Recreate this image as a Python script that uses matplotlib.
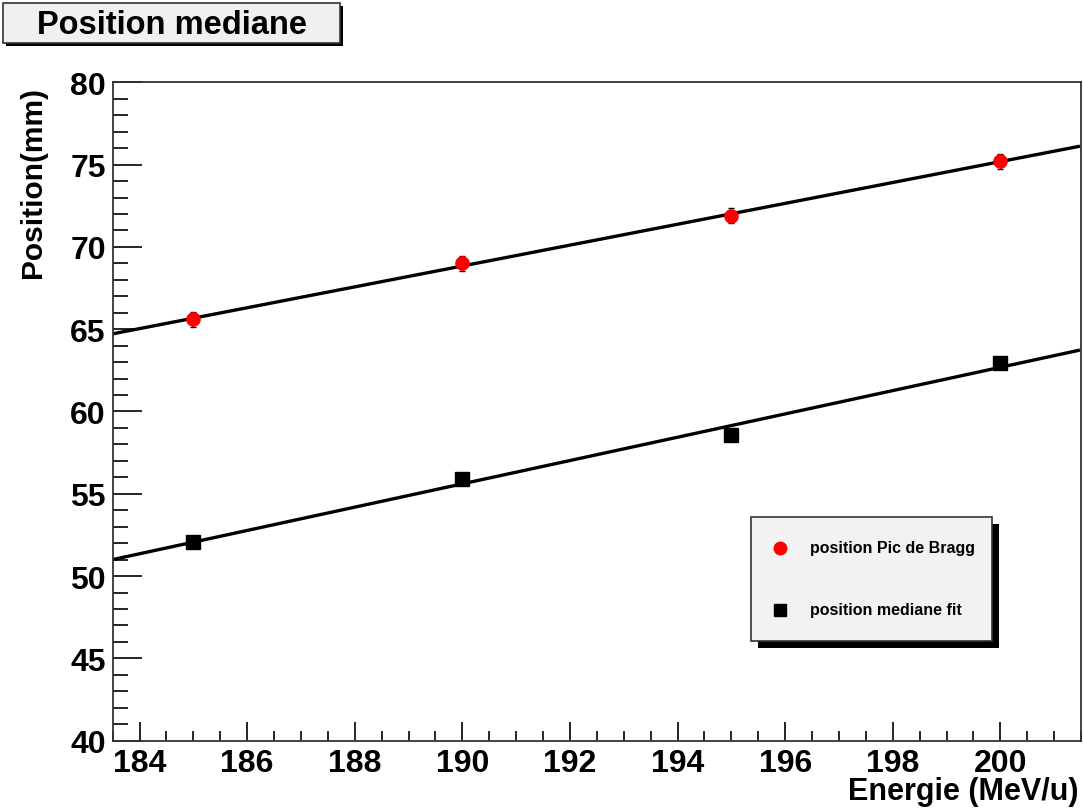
import numpy as np
import matplotlib
matplotlib.use("Agg")
import matplotlib.pyplot as plt
from matplotlib.patches import Rectangle
from matplotlib.ticker import MultipleLocator

plt.rcParams['font.family'] = ['Liberation Sans', 'DejaVu Sans']
plt.rcParams['font.weight'] = 'bold'

energies = [185, 190, 195, 200]
bragg_pos = [65.6, 69.0, 71.9, 75.2]
bragg_err = [0.45, 0.45, 0.45, 0.45]
median_pos = [52.05, 55.9, 58.6, 62.95]

title = "Position mediane"
xlabel = "Energie (MeV/u)"
ylabel = "Position(mm)"
legend_labels = ["position Pic de Bragg", "position mediane fit"]

W, H = 1083, 812
fig = plt.figure(figsize=(W / 100, H / 100), dpi=100)
ax = fig.add_axes([112.7 / W, 1 - 741.7 / H, (1081 - 112.7) / W, (741.7 - 83.3) / H])

xmin, xmax = 183.5, 201.5
ax.set_xlim(xmin, xmax)
ax.set_ylim(40, 80)

# linear fits
xf = np.array([xmin, xmax - 0.05])
for ys in (bragg_pos, median_pos):
    p = np.polyfit(energies, ys, 1)
    ax.plot(xf, np.polyval(p, xf), color='black', lw=2.4, zorder=2)

ax.errorbar(energies, bragg_pos, yerr=bragg_err, fmt='o', color='red', ms=9.5,
            ecolor='black', elinewidth=1, capsize=2, capthick=1, zorder=3)
ax.plot(energies, median_pos, 's', color='black', ms=9.5, zorder=3)

ax.xaxis.set_major_locator(MultipleLocator(2))
ax.xaxis.set_minor_locator(MultipleLocator(0.5))
ax.yaxis.set_major_locator(MultipleLocator(5))
ax.yaxis.set_minor_locator(MultipleLocator(1))
ax.tick_params(axis='x', which='major', direction='in', length=14, width=1.2,
               labelsize=23, pad=5, top=False)
ax.tick_params(axis='x', which='minor', direction='in', length=7, width=1.2, top=False)
ax.tick_params(axis='y', which='major', direction='in', length=21, width=1.2,
               labelsize=23, pad=5, right=False)
ax.tick_params(axis='y', which='minor', direction='in', length=11, width=1.2, right=False)
for lab in ax.get_xticklabels() + ax.get_yticklabels():
    lab.set_fontweight('bold')
for s in ax.spines.values():
    s.set_linewidth(1.3)
    s.set_color('#333333')

fig.text(1078 / W, 1 - 800 / H, xlabel, ha='right', va='baseline', fontsize=22, fontweight='bold')
fig.text(19 / W, 1 - 87 / H, ylabel, ha='left', va='top', rotation=90, fontsize=21.5, fontweight='bold')

# boxes with shadow
def box(x0, y0, x1, y1, face, sh=4):
    fig.patches.append(Rectangle((x0 / W + sh / W, 1 - (y1 + sh) / H), (x1 - x0) / W, (y1 - y0) / H,
                                 transform=fig.transFigure, facecolor='black', edgecolor='none', zorder=5))
    fig.patches.append(Rectangle((x0 / W, 1 - y1 / H), (x1 - x0) / W, (y1 - y0) / H,
                                 transform=fig.transFigure, facecolor=face, edgecolor='#333333',
                                 lw=1.2, zorder=6))

box(3, 4, 340, 44, '#f0f0f0', sh=3)
fig.text(172 / W, 1 - 25 / H, title, ha='center', va='center', fontsize=23.5,
         fontweight='bold', zorder=7)

# legend box
box(751, 518, 992, 642, '#f2f2f2', sh=7)
fig.lines.append(plt.Line2D([780 / W], [1 - 549 / H], marker='o', color='red', ms=9,
                            transform=fig.transFigure, zorder=7))
fig.lines.append(plt.Line2D([780 / W], [1 - 611 / H], marker='s', color='black', ms=9,
                            transform=fig.transFigure, zorder=7))
fig.text(810 / W, 1 - 549 / H, legend_labels[0], ha='left', va='center', fontsize=11.5,
         fontweight='bold', zorder=7)
fig.text(810 / W, 1 - 611 / H, legend_labels[1], ha='left', va='center', fontsize=11.5,
         fontweight='bold', zorder=7)

fig.savefig("out.png", dpi=100)
